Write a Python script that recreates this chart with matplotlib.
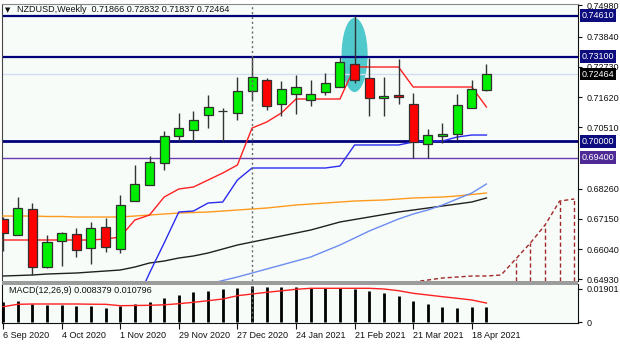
import matplotlib.pyplot as plt
import matplotlib.transforms as mtransforms
from matplotlib.patches import Ellipse, Rectangle
import numpy as np
import pandas as pd

plt.rcParams['font.family'] = ['Liberation Sans', 'DejaVu Sans']

# weekly bars, NZDUSD
weeks = pd.date_range('2020-09-06', periods=34, freq='7D')
opens = [0.67148, 0.66561, 0.67515, 0.65387, 0.66341, 0.66598, 0.66084, 0.66854, 0.66047, 0.67808,
         0.68395, 0.69202, 0.70193, 0.70413, 0.70963, 0.71110, 0.71036, 0.71843, 0.72247, 0.71367,
         0.71733, 0.71513, 0.71807, 0.71990, 0.72834, 0.72320, 0.71587, 0.71697, 0.71367, 0.69899,
         0.70193, 0.70266, 0.71220, 0.71866]
highs = [0.67221, 0.67955, 0.67735, 0.66561, 0.66671, 0.66818, 0.67038, 0.67185, 0.68028, 0.69129,
         0.69459, 0.70376, 0.71036, 0.71110, 0.71697, 0.71220, 0.72357, 0.73091, 0.72320, 0.72210,
         0.72430, 0.72247, 0.72504, 0.73091, 0.74600, 0.73054, 0.72357, 0.73017, 0.71770, 0.70450,
         0.70670, 0.71733, 0.72247, 0.72832]
lows = [0.65974, 0.66561, 0.65094, 0.65350, 0.65424, 0.65754, 0.65497, 0.65937, 0.65901, 0.67808,
        0.68395, 0.68945, 0.70009, 0.70009, 0.70486, 0.70009, 0.70780, 0.71513, 0.71146, 0.70926,
        0.71000, 0.71293, 0.71697, 0.71990, 0.72137, 0.70926, 0.70926, 0.71367, 0.69386, 0.69386,
        0.69936, 0.70046, 0.71220, 0.71837]
closes = [0.66634, 0.67551, 0.65387, 0.66304, 0.66634, 0.66011, 0.66818, 0.66121, 0.67662, 0.68432,
          0.69239, 0.70193, 0.70486, 0.70780, 0.71257, 0.71110, 0.71843, 0.72357, 0.71293, 0.71917,
          0.71990, 0.71733, 0.72137, 0.72907, 0.72247, 0.71587, 0.71660, 0.71623, 0.69973, 0.70229,
          0.70266, 0.71330, 0.71917, 0.72464]

# ichimoku lines
tenkan = [0.66378] * 7 + [0.66414, 0.66488, 0.67111, 0.67295, 0.67955, 0.68249, 0.68322, 0.68579,
                          0.68835, 0.69129, 0.70486, 0.70706, 0.71036] \
         + [0.71550] * 4 + [0.72724] * 4 + [0.71990] * 5 + [0.71257]
kijun = [np.nan] * 9 + [0.63993, 0.65167, 0.66268, 0.67405, 0.67441, 0.67735, 0.67772, 0.68579] \
        + [0.69019] * 6 + [0.69092] + [0.69863] * 4 + [0.69973, 0.70009, 0.70009, 0.70156, 0.70229, 0.70229]
span_a_start = 28
span_a = [0.64837, 0.64910, 0.64984, 0.65020, 0.65057, 0.65057, 0.65094, 0.65681, 0.66268, 0.66928,
          0.67808, 0.67882]

# moving averages
ma_orange = [0.67258, 0.67258, 0.67258, 0.67240, 0.67240, 0.67221, 0.67221, 0.67221, 0.67221, 0.67258,
             0.67295, 0.67331, 0.67368, 0.67386, 0.67405, 0.67441, 0.67478, 0.67515, 0.67551, 0.67606,
             0.67662, 0.67698, 0.67735, 0.67772, 0.67808, 0.67827, 0.67845, 0.67882, 0.67918, 0.67937,
             0.67955, 0.67992, 0.68047, 0.68102]
ma_black = [0.65057, 0.65075, 0.65094, 0.65130, 0.65149, 0.65167, 0.65204, 0.65240, 0.65277, 0.65387,
            0.65534, 0.65607, 0.65717, 0.65791, 0.65901, 0.66047, 0.66194, 0.66304, 0.66414, 0.66524,
            0.66634, 0.66744, 0.66891, 0.67038, 0.67130, 0.67221, 0.67313, 0.67405, 0.67478, 0.67551,
            0.67625, 0.67698, 0.67772, 0.67918]
ma_blue = [np.nan] * 14 + [0.64763, 0.64892, 0.65020, 0.65167, 0.65314, 0.65460, 0.65607, 0.65754,
                           0.65974, 0.66194, 0.66451, 0.66708, 0.66928, 0.67148, 0.67331, 0.67478,
                           0.67662, 0.67882, 0.68102, 0.68432]

# MACD(12,26,9)
macd_hist = [0.01140, 0.01197, 0.01043, 0.00969, 0.00969, 0.00912, 0.00912, 0.00798, 0.00929, 0.01026,
             0.01157, 0.01368, 0.01539, 0.01710, 0.01784, 0.01881, 0.01955, 0.02052, 0.02012, 0.02012,
             0.02012, 0.01938, 0.01938, 0.01938, 0.01881, 0.01767, 0.01653, 0.01499, 0.01214, 0.01026,
             0.00872, 0.00815, 0.00872, 0.008379]
macd_signal = [0.00872, 0.01009, 0.01026, 0.01026, 0.01026, 0.01026, 0.01015, 0.01009, 0.00929, 0.00941,
               0.00952, 0.00980, 0.01043, 0.01123, 0.01214, 0.01311, 0.01499, 0.01596, 0.01693, 0.01778,
               0.01864, 0.01921, 0.01921, 0.01921, 0.01921, 0.01921, 0.01881, 0.01784, 0.01636, 0.01539,
               0.01442, 0.01351, 0.01254, 0.010796]

price_ticks = [0.74980, 0.73840, 0.72730, 0.71620, 0.70510, 0.68260, 0.67150, 0.66040, 0.64930]
navy_levels = [0.74610, 0.73100, 0.70000]
purple_level = 0.69400
bid = closes[-1]
date_ticks = [0, 4, 8, 12, 16, 20, 24, 28, 32]
separator_bar = 17

W, H = 620, 344
fig = plt.figure(figsize=(6.2, 3.44), dpi=100, facecolor='white')
ax = fig.add_axes([2 / W, 1 - 281 / H, 576 / W, 277 / H], facecolor='#f7fcf9')
axm = fig.add_axes([2 / W, 21 / H, 576 / W, 39 / H], facecolor='#f7fcf9')

x = np.arange(len(closes))
xlim = (-0.07, 39.25)

# highlighted zone
ax.add_patch(Ellipse((24, 0.73165), 1.78, 0.0272, color='#4fc9cb', zorder=1, lw=0))

# levels
for lv in navy_levels:
    ax.axhline(lv, color='#00007a', lw=2.0 if lv == 0.70000 else 1.6, zorder=2)
ax.axhline(purple_level, color='#6a3cb4', lw=1.0, zorder=2)
ax.axhline(bid, color='#d2def0', lw=1.0, zorder=1.5)

# MAs and ichimoku
ax.plot(x, ma_orange, color='#ff9a1e', lw=1.0, zorder=3)
ax.plot(x, ma_black, color='#202020', lw=1.0, zorder=3)
ax.plot(x, ma_blue, color='#6c8cf0', lw=1.0, zorder=3)
ax.plot(x, kijun, color='#2b2bf0', lw=1.0, zorder=3)
ax.plot(x, tenkan, color='#ff2020', lw=1.0, zorder=3)
xs = np.arange(span_a_start, span_a_start + len(span_a))
ax.plot(xs, span_a, color='#a02828', lw=1.0, ls=(0, (3, 2)), zorder=3)
ax.set_ylim(0.64874, 0.75035)
ymin = ax.get_ylim()[0]
ax.vlines(xs[7:], ymin, span_a[7:], color='#a02828', lw=1.0, linestyles=(0, (3, 2)), zorder=3)

# candles
o = np.array(opens); c = np.array(closes)
up = c >= o
ax.vlines(x, lows, highs, color='#333333', lw=1.0, zorder=4)
ax.bar(x, np.abs(c - o), bottom=np.minimum(o, c), width=0.62,
       color=np.where(up, '#00ee00', '#ff0000'), edgecolor='#303030', linewidth=0.9, zorder=5)

# period separator
for a in (ax, axm):
    a.axvline(separator_bar, color='#666666', lw=1.0, ls=(0, (1.5, 2)), zorder=6)

ax.set_xlim(xlim)
ax.set_xticks([])
ax.yaxis.tick_right()
ax.set_yticks(price_ticks)
ax.set_yticklabels(['%.5f' % v for v in price_ticks])
ax.tick_params(axis='y', length=3, width=0.8, pad=3, labelsize=6.5, colors='#111111')
ax.spines['bottom'].set_visible(False)
ax.spines['top'].set_color('#888888')
ax.spines['left'].set_color('#444444')
ax.spines['right'].set_color('#111111')

trans = mtransforms.blended_transform_factory(ax.transAxes, ax.transData)
boxes = [(lv, '#0c0c7e') for lv in navy_levels] + [(purple_level, '#4e2a96'), (bid, '#000000')]
for lv, fc in boxes:
    ax.text(1.006, lv, '%.5f' % lv, transform=trans, ha='left', va='center', fontsize=6.5,
            color='white', bbox=dict(boxstyle='square,pad=0.2', fc=fc, ec='none'), clip_on=False)

# MACD panel
axm.vlines(x, 0, macd_hist, color='#000000', lw=2.0, zorder=3)
axm.plot(x, macd_signal, color='#ff2020', lw=1.0, zorder=4)
axm.set_xlim(xlim)
axm.set_ylim(-0.00057, 0.02166)
axm.yaxis.tick_right()
axm.set_yticks([0.01901, 0])
axm.set_yticklabels(['0.01901', '0'])
axm.tick_params(axis='y', length=3, width=0.8, pad=3, labelsize=6.5, colors='#111111')
axm.set_xticks(date_ticks)
axm.set_xticklabels(['%d %s' % (weeks[i].day, weeks[i].strftime('%b %Y')) for i in date_ticks],
                    ha='left')
axm.tick_params(axis='x', length=4, width=0.8, pad=2, labelsize=6.5, colors='#111111')
for lbl in axm.get_xticklabels():
    lbl.set_horizontalalignment('left')
axm.spines['top'].set_visible(False)
for s in ('left', 'right', 'bottom'):
    axm.spines[s].set_color('#111111')
axm.text(7 / 576, 0.83, 'MACD(12,26,9) %.6f %.6f' % (macd_hist[-1], macd_signal[-1]),
         transform=axm.transAxes, fontsize=6.5, color='#111111', va='center', ha='left')

# separator band between panels
fig.add_artist(Rectangle((2 / W, 1 - 284.5 / H), 576 / W, 3.5 / H, transform=fig.transFigure,
                         color='#9c9c9c', lw=0))

# header
fig.text(5 / W, 1 - 10 / H, '\u25bc', fontsize=5, family='DejaVu Sans', va='center', color='#111111')
fig.text(17 / W, 1 - 10 / H, 'NZDUSD,Weekly  %.5f %.5f %.5f %.5f' % (opens[-1], highs[-1], lows[-1], closes[-1]),
         fontsize=6.5, va='center', color='#111111')

fig.savefig('out.png', dpi=100, facecolor=fig.get_facecolor())
